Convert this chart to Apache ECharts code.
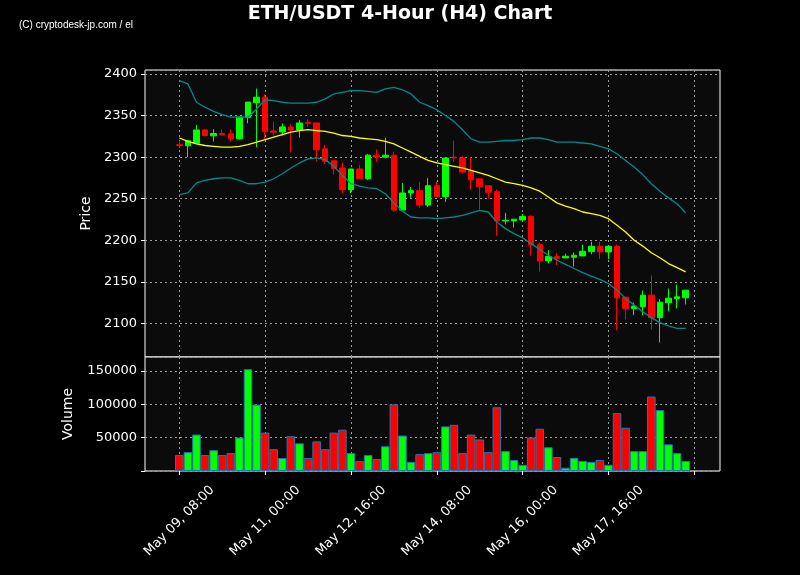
<!DOCTYPE html>
<html>
<head>
<meta charset="utf-8">
<script src="https://cdn.jsdelivr.net/npm/echarts@6/dist/echarts.min.js"></script>
<style>
html,body{margin:0;padding:0;background:#000;}
#chart{width:800px;height:575px;}
</style>
</head>
<body>
<div id="chart"></div>
<script>
// 4時間足 2024-05-09 08:00 から 60本
var startTime = Date.UTC(2024, 4, 9, 8);
var months = ["Jan","Feb","Mar","Apr","May","Jun","Jul","Aug","Sep","Oct","Nov","Dec"];

// [open, close, low, high]
var ohlc = [
    [2315,2314,2311,2320],[2313.6,2319.6,2300,2320],[2316.8,2332.7,2316,2338.7],[2332.7,2326,2325,2334],
    [2325.6,2328.4,2318.8,2333.5],[2328.4,2326.8,2326,2333],[2328,2322,2318.8,2333.5],[2322,2348.3,2320.8,2348.3],
    [2347.5,2366.2,2340.7,2366.2],[2365.4,2372.1,2312,2382.5],[2372.1,2330.7,2320.8,2375.3],[2331.5,2330,2326,2342.7],
    [2330.3,2336.3,2326,2340.7],[2336.3,2332.7,2305.7,2339.5],[2332.7,2341.1,2323.6,2344.7],[2341.9,2340.7,2336.7,2345.5],
    [2341.1,2308.9,2294.9,2341.1],[2310,2294.9,2291.7,2314.8],[2295.7,2286.2,2279,2295.7],[2287,2260.9,2256.9,2293.7],
    [2260.9,2285.8,2256.9,2285.8],[2285.8,2273.9,2273.9,2290.6],[2273.9,2302.4,2272.7,2303.6],[2302.4,2300,2294.5,2309.2],
    [2300,2302.4,2298.5,2323.4],[2302.4,2236.3,2234.3,2306.4],[2236.3,2256.9,2236.3,2268.8],[2257,2259.7,2251,2264],
    [2259.7,2242.3,2238.7,2270],[2242.3,2265.6,2239.9,2274.7],[2265.6,2252.5,2252.5,2270.8],[2252.5,2298.9,2246.2,2298.9],
    [2300,2299,2294,2320],[2298.9,2282.2,2280.7,2301.6],[2283.4,2272.7,2260.9,2300],[2273.9,2264.4,2237.1,2273.9],
    [2265.6,2257.7,2250.2,2265.6],[2258.5,2223.2,2205.4,2260.9],[2223.2,2224,2219,2233],[2223.2,2225.4,2215.3,2225.6],
    [2224.4,2228.6,2224.4,2231.6],[2228.8,2194.4,2181.6,2230],[2194.8,2175.2,2162.4,2197.2],[2175.2,2180.4,2172,2188],
    [2180.4,2178.4,2170.4,2184.8],[2178.8,2180.8,2178.4,2184],[2179.6,2182,2168.4,2185.2],[2181.2,2186.8,2181.2,2194.8],
    [2186.4,2192.8,2183.2,2198.4],[2192.8,2186,2177.6,2198.4],[2186,2192.8,2177.2,2192.8],[2192.8,2130.8,2091.6,2194.8],
    [2131.6,2117.6,2104.8,2131.6],[2117.6,2120.8,2110,2125.2],[2120,2134,2110,2139.6],[2134,2106.8,2092.8,2157.6],
    [2106.8,2125.6,2077.2,2129.2],[2124.8,2130.4,2114.4,2142],[2130,2132,2118,2146.8],[2130.8,2140,2122.8,2140]
];
var volume = [
    23900,28300,54700,23900,31200,23900,26800,50300,152700,99600,
    57600,32700,19500,52200,41500,19500,44400,32700,57600,62000,
    26800,15100,23900,18000,37100,100000,53200,13700,25400,26800,
    28300,66900,69300,26800,54700,47300,28300,95600,29800,16600,
    9300,50300,63400,35600,21000,4900,19500,15100,13700,16600,
    9300,86900,64900,29800,29800,111700,91300,40000,26800,15100
];
var ma = [
    2323,2319,2316,2314,2313,2312,2312,2313,2315,2318,2321,2324,2327,2330,2332,2333,2332,2331,2329,2326,
    2325,2323,2322,2321,2319,2316,2311,2306,2301,2296,2293,2291,2289,2287,2284,2281,2278,2274,2270,2268,
    2266,2263,2259,2252,2245,2241,2238,2234,2232,2230,2226,2218,2210,2200,2193,2185,2179,2172,2167,2162
];
var upper = [
    2392,2388,2366,2360,2355,2351,2348,2348,2348,2358,2369,2368,2366,2365,2365,2365,2366,2370,2376,2378,
    2380,2380,2379,2378,2382,2384,2381,2376,2366,2362,2357,2350,2343,2333,2322,2318,2318,2319,2320,2320,
    2321,2323,2323,2321,2318,2318,2318,2317,2316,2313,2310,2304,2296,2288,2279,2268,2259,2251,2244,2233
];
var lower = [
    2255,2257,2269,2272,2274,2275,2275,2272,2268,2268,2270,2274,2280,2287,2293,2298,2299,2297,2289,2278,
    2268,2265,2263,2262,2256,2245,2235,2228,2227,2227,2226,2227,2228,2230,2233,2236,2234,2222,2214,2208,
    2203,2196,2189,2182,2176,2171,2166,2161,2157,2153,2148,2140,2130,2122,2114,2107,2101,2097,2094,2094
];

var PAD = 4; // 左右の空き本数
function fmt(t){
    var d = new Date(t);
    var dd = ("0"+d.getUTCDate()).slice(-2), hh = ("0"+d.getUTCHours()).slice(-2);
    return months[d.getUTCMonth()] + " " + dd + ", " + hh + ":00";
}
var cats = [];
for (var i = -PAD; i < ohlc.length + PAD; i++) cats.push(fmt(startTime + i*4*3600*1000));
function pad(arr){
    var out = [];
    for (var k = 0; k < PAD; k++) out.push('-');
    out = out.concat(arr);
    for (var k = 0; k < PAD; k++) out.push('-');
    return out;
}
var volData = volume.map(function(v, i){
    var up = ohlc[i][1] >= ohlc[i][0];
    return {value: v, itemStyle: {color: up ? "#00ff00" : "#ff0000"}};
});

var tickShow = function(idx){ return (idx - PAD) % 10 === 0 && idx >= PAD; };
var labelShow = function(idx){ return tickShow(idx) && idx - PAD < ohlc.length; };
var gridLine = {show: true, lineStyle: {color: "#999", type: [2, 3], width: 1}};

var myChart = echarts.init(document.getElementById('chart'));
myChart.setOption({
    backgroundColor: "#000",
    animation: false,
    title: [
        {text: "ETH/USDT 4-Hour (H4) Chart", left: "center", top: 0,
         textStyle: {color: "#fff", fontSize: 19, fontWeight: "bold", fontFamily: "DejaVu Sans"}},
        {text: "(C) cryptodesk-jp.com / el", left: 14, top: 15,
         textStyle: {color: "#fff", fontSize: 10, fontWeight: "normal", fontFamily: "Liberation Sans Narrow, Liberation Sans"}}
    ],
    grid: [
        {left: 145, right: 80, top: 70, height: 287, show: true, backgroundColor: "#0b0b0b", borderColor: "#fff", borderWidth: 1},
        {left: 145, right: 80, top: 357, height: 114, show: true, backgroundColor: "#0b0b0b", borderColor: "#fff", borderWidth: 1}
    ],
    xAxis: [
        {type: "category", gridIndex: 0, data: cats, boundaryGap: false,
         axisLine: {show: false}, axisTick: {show: false}, axisLabel: {show: false},
         splitLine: {show: true, interval: tickShow, lineStyle: gridLine.lineStyle}},
        {type: "category", gridIndex: 1, data: cats, boundaryGap: false,
         axisLine: {show: false},
         axisTick: {show: true, interval: tickShow, length: 4, lineStyle: {color: "#fff"}},
         axisLabel: {interval: labelShow, rotate: 45, align: "center", verticalAlign: "middle", margin: 50,
                     color: "#fff", fontSize: 13, fontFamily: "DejaVu Sans"},
         splitLine: {show: true, interval: tickShow, lineStyle: gridLine.lineStyle}}
    ],
    yAxis: [
        {type: "value", gridIndex: 0, min: 2059.6, max: 2404.8, splitNumber: 7,
         name: "Price", nameLocation: "middle", nameGap: 52,
         nameTextStyle: {color: "#fff", fontSize: 14, fontFamily: "DejaVu Sans"},
         axisLine: {show: false}, axisTick: {show: true, length: 4, lineStyle: {color: "#fff"}},
         axisLabel: {color: "#fff", fontSize: 13, fontFamily: "DejaVu Sans", showMinLabel: false, showMaxLabel: false,
                     formatter: function(v){ return String(v); }},
         splitLine: gridLine},
        {type: "value", gridIndex: 1, min: 0, max: 171000, interval: 50000,
         name: "Volume", nameLocation: "middle", nameGap: 70,
         nameTextStyle: {color: "#fff", fontSize: 14, fontFamily: "DejaVu Sans"},
         axisLine: {show: false}, axisTick: {show: true, length: 4, lineStyle: {color: "#fff"}},
         axisLabel: {color: "#fff", fontSize: 13, fontFamily: "DejaVu Sans", showMaxLabel: false,
                     formatter: function(v){ return v === 0 ? "" : String(v); }},
         splitLine: gridLine}
    ],
    series: [
        {type: "candlestick", xAxisIndex: 0, yAxisIndex: 0, data: pad(ohlc), barWidth: 6,
         itemStyle: {color: "#00ff00", color0: "#ff0000", borderColor: "#00ff00", borderColor0: "#ff0000", borderWidth: 1}},
        {type: "line", xAxisIndex: 0, yAxisIndex: 0, data: pad(upper), symbol: "none",
         lineStyle: {color: "#008b8b", width: 1.3}},
        {type: "line", xAxisIndex: 0, yAxisIndex: 0, data: pad(lower), symbol: "none",
         lineStyle: {color: "#008b8b", width: 1.3}},
        {type: "line", xAxisIndex: 0, yAxisIndex: 0, data: pad(ma), symbol: "none",
         lineStyle: {color: "#ffff00", width: 1.3}},
        {type: "bar", xAxisIndex: 1, yAxisIndex: 1, data: pad(volData), barWidth: "100%",
         itemStyle: {borderColor: "#1f77b4", borderWidth: 1}}
    ]
});
window.addEventListener("resize", function() {
    myChart.resize();
});
</script>
</body>
</html>
